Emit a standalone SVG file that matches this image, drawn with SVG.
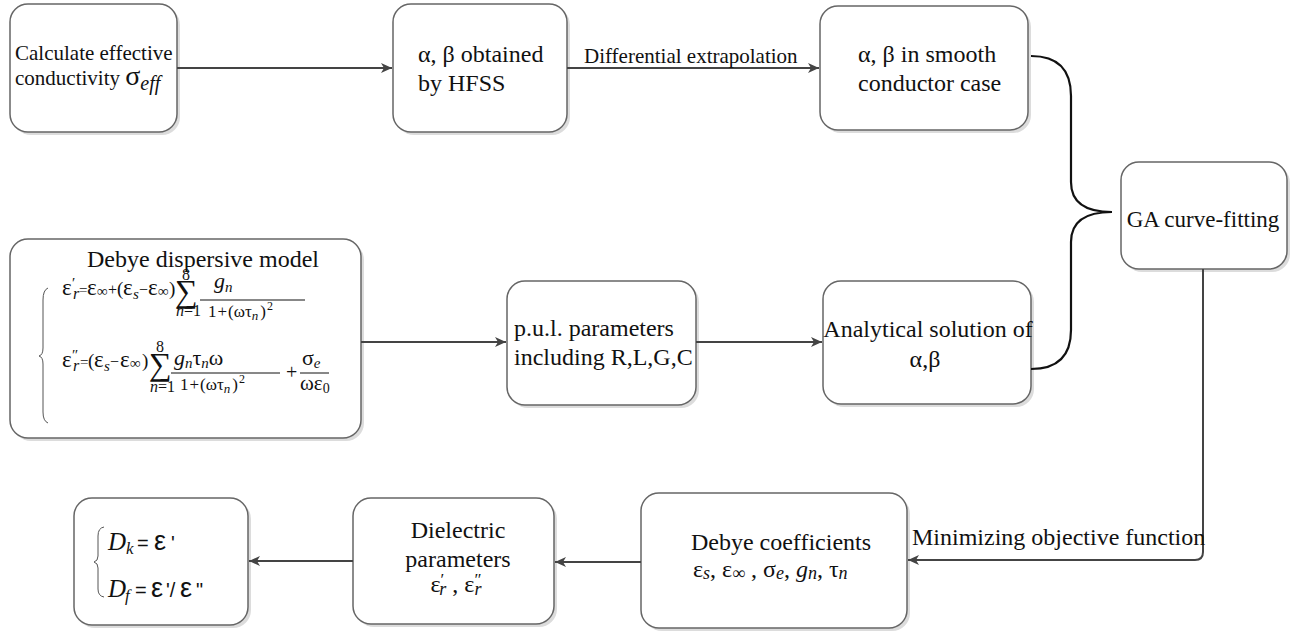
<svg xmlns="http://www.w3.org/2000/svg" width="1299" height="634" viewBox="0 0 1299 634">
<style>
.box{fill:#fff;stroke:#666;stroke-width:1.5}
.sh{fill:#dcdcdc}
.t{font-family:"Liberation Serif","Times New Roman",serif;fill:#111}
.s{font-family:"Liberation Sans",Arial,sans-serif;fill:#111}
.i{font-style:italic}
.conn{stroke:#444;stroke-width:2;fill:none}
.brace{stroke:#111;stroke-width:2.2;fill:none}
.thin{stroke:#555;stroke-width:1;fill:none}
.fr{stroke:#111;stroke-width:1}
</style>
<defs>
<marker id="arr" markerUnits="userSpaceOnUse" markerWidth="12" markerHeight="10" refX="11" refY="5" orient="auto">
<path d="M0,0 L11,5 L0,10 L3,5 Z" fill="#444"/>
</marker>
</defs>

<g id="n1">
<rect class="sh" x="13" y="7" width="167" height="128" rx="18"/>
<rect class="box" x="10" y="4" width="167" height="128" rx="18"/>
<text class="t" x="15" y="60" font-size="21">Calculate effective</text>
<text class="t" x="15" y="85" font-size="21">conductivity <tspan font-size="28">σ</tspan><tspan class="i" font-size="20" dy="5">eff</tspan></text>
</g>

<g id="n2">
<rect class="sh" x="396" y="7" width="174" height="128" rx="18"/>
<rect class="box" x="393" y="4" width="174" height="128" rx="18"/>
<text class="t" x="418" y="62" font-size="24">α, β obtained</text>
<text class="t" x="418" y="91" font-size="24">by HFSS</text>
</g>

<g id="n3">
<rect class="sh" x="823" y="9" width="208" height="124" rx="18"/>
<rect class="box" x="820" y="6" width="208" height="124" rx="18"/>
<text class="t" x="858" y="62" font-size="24">α, β in smooth</text>
<text class="t" x="858" y="91" font-size="24">conductor case</text>
</g>

<g id="n4">
<rect class="sh" x="1124" y="165" width="166" height="107" rx="18"/>
<rect class="box" x="1121" y="162" width="166" height="107" rx="18"/>
<text class="t" x="1203" y="227" font-size="23" text-anchor="middle">GA curve-fitting</text>
</g>

<g id="n5">
<rect class="sh" x="13" y="242" width="351" height="199" rx="18"/>
<rect class="box" x="10" y="239" width="351" height="199" rx="18"/>
<text class="t" x="203" y="267" font-size="24" text-anchor="middle">Debye dispersive model</text>
<path class="thin" d="M48,288 Q43,290 43,300 L43,348 Q43,355 39,356 Q43,357 43,364 L43,412 Q43,421 48,423"/>
<!-- equation 1 -->
<text class="t" y="295" font-size="23"><tspan x="62">ε</tspan><tspan x="72" y="288" font-size="15">′</tspan><tspan class="i" x="73" y="299" font-size="16">r</tspan><tspan x="79" y="295" font-size="15">=</tspan><tspan x="87" y="295">ε</tspan><tspan x="97" y="296" font-size="15">∞</tspan><tspan x="108" y="295" font-size="16">+</tspan><tspan x="117" y="295" font-size="19">(</tspan><tspan x="123" y="295">ε</tspan><tspan class="i" x="133" y="299" font-size="15">s</tspan><tspan x="139" y="295" font-size="16">−</tspan><tspan x="148" y="295">ε</tspan><tspan x="158" y="296" font-size="15">∞</tspan><tspan x="169" y="295" font-size="19">)</tspan></text>
<text class="t" x="175" y="302" font-size="32">∑</text>
<text class="t" x="182" y="280" font-size="16">8</text>
<text class="t" x="176" y="316" font-size="16"><tspan class="i">n</tspan>=1</text>
<text class="t" x="214" y="288" font-size="22"><tspan class="i">g</tspan><tspan class="i" font-size="15" dy="4">n</tspan></text>
<line class="fr" x1="200" y1="300" x2="305" y2="300"/>
<text class="t" x="208" y="317" font-size="17">1<tspan dx="1">+</tspan><tspan dx="1">(ωτ</tspan><tspan class="i" font-size="13" dy="3">n</tspan><tspan dx="2" dy="-3">)</tspan><tspan font-size="12" dx="1" dy="-7">2</tspan></text>
<!-- equation 2 -->
<text class="t" y="367" font-size="23"><tspan x="62">ε</tspan><tspan x="72" y="360" font-size="15">″</tspan><tspan class="i" x="73" y="371" font-size="16">r</tspan><tspan x="80" y="367" font-size="15">=</tspan><tspan x="88" y="367" font-size="19">(</tspan><tspan x="94" y="367">ε</tspan><tspan class="i" x="104" y="371" font-size="15">s</tspan><tspan x="110" y="367" font-size="16">−</tspan><tspan x="120" y="367">ε</tspan><tspan x="130" y="368" font-size="15">∞</tspan><tspan x="142" y="367" font-size="19">)</tspan></text>
<text class="t" x="149" y="375" font-size="32">∑</text>
<text class="t" x="156" y="352" font-size="16">8</text>
<text class="t" x="150" y="392" font-size="16"><tspan class="i">n</tspan>=1</text>
<text class="t" x="174" y="365" font-size="22"><tspan class="i">g</tspan><tspan class="i" font-size="15" dy="3">n</tspan><tspan dy="-3">τ</tspan><tspan class="i" font-size="15" dy="3">n</tspan><tspan dy="-3">ω</tspan></text>
<line class="fr" x1="171" y1="373" x2="280" y2="373"/>
<text class="t" x="180" y="390" font-size="17">1<tspan dx="1">+</tspan><tspan dx="1">(ωτ</tspan><tspan class="i" font-size="13" dy="3">n</tspan><tspan dx="2" dy="-3">)</tspan><tspan font-size="12" dx="1" dy="-7">2</tspan></text>
<text class="t" x="286" y="379" font-size="20">+</text>
<text class="t" x="302" y="365" font-size="22">σ<tspan class="i" font-size="15" dy="3">e</tspan></text>
<line class="fr" x1="300" y1="373" x2="329" y2="373"/>
<text class="t" x="300" y="390" font-size="21">ωε<tspan font-size="14" dy="3">0</tspan></text>
</g>

<g id="n6">
<rect class="sh" x="510" y="284" width="189" height="124" rx="18"/>
<rect class="box" x="507" y="281" width="189" height="124" rx="18"/>
<text class="t" x="514" y="336" font-size="24">p.u.l. parameters</text>
<text class="t" x="514" y="365" font-size="24">including R,L,G,C</text>
</g>

<g id="n7">
<rect class="sh" x="826" y="284" width="208" height="123" rx="18"/>
<rect class="box" x="823" y="281" width="208" height="123" rx="18"/>
<text class="t" x="928" y="337" font-size="24" text-anchor="middle">Analytical solution of</text>
<text class="t" x="925" y="367" font-size="24" text-anchor="middle">α,β</text>
</g>

<g id="n8">
<rect class="sh" x="644" y="496" width="266" height="135" rx="18"/>
<rect class="box" x="641" y="493" width="266" height="135" rx="18"/>
<text class="t" x="781" y="550" font-size="24" text-anchor="middle">Debye coefficients</text>
<text class="t" x="693" y="577" font-size="24">ε<tspan class="i" font-size="18" dy="2">s</tspan><tspan dy="-2">, ε</tspan><tspan font-size="18" dy="2">∞</tspan><tspan dy="-2"> , σ</tspan><tspan class="i" font-size="18" dy="2">e</tspan><tspan dy="-2">, </tspan><tspan class="i">g</tspan><tspan class="i" font-size="18" dy="2">n</tspan><tspan dy="-2">, τ</tspan><tspan class="i" font-size="18" dy="2">n</tspan></text>
</g>

<g id="n9">
<rect class="sh" x="356" y="501" width="201" height="126" rx="18"/>
<rect class="box" x="353" y="498" width="201" height="126" rx="18"/>
<text class="t" x="458" y="538" font-size="24" text-anchor="middle">Dielectric</text>
<text class="t" x="458" y="567" font-size="24" text-anchor="middle">parameters</text>
<text class="t" x="456" y="592" font-size="24" text-anchor="middle">ε<tspan font-size="17" dy="-7">′</tspan><tspan class="i" font-size="18" dx="-5" dy="10">r</tspan><tspan dy="-3"> , ε</tspan><tspan font-size="17" dy="-7">″</tspan><tspan class="i" font-size="18" dx="-7" dy="10">r</tspan></text>
</g>

<g id="n10">
<rect class="sh" x="77" y="501" width="174" height="127" rx="18"/>
<rect class="box" x="74" y="498" width="174" height="127" rx="18"/>
<path class="thin" d="M104,527 Q98,528 98,536 L98,556 Q98,561 94,562 Q98,563 98,568 L98,589 Q98,596 104,597"/>
<text class="t i" x="108" y="550" font-size="25">D</text>
<text class="t i" x="126" y="554" font-size="17">k</text>
<text class="s" x="137" y="550" font-size="20">=</text>
<text class="s" x="154" y="550" font-size="27">ε</text>
<text class="s" x="171" y="550" font-size="20">'</text>
<text class="t i" x="108" y="597" font-size="25">D</text>
<text class="t i" x="125" y="601" font-size="17">f</text>
<text class="s" x="135" y="597" font-size="20">=</text>
<text class="s" x="151" y="597" font-size="27">ε</text>
<text class="s" x="166" y="597" font-size="20">'/</text>
<text class="s" x="180" y="597" font-size="27">ε</text>
<text class="s" x="196" y="597" font-size="20">"</text>
</g>

<g id="connectors">
<path class="conn" d="M177,68 L392,68" marker-end="url(#arr)"/>
<path class="conn" d="M567,68 L819,68" marker-end="url(#arr)"/>
<text class="t" x="584" y="63" font-size="21">Differential extrapolation</text>
<path class="brace" d="M1031,56 Q1071,56 1071,96 L1071,182 Q1071,212 1112,212 Q1071,212 1071,242 L1071,330 Q1071,369 1031,369"/>
<path class="conn" d="M361,342 L506,342" marker-end="url(#arr)"/>
<path class="conn" d="M696,342 L822,342" marker-end="url(#arr)"/>
<path class="conn" d="M1203,269 L1203,552 Q1203,560 1195,560 L908,560" stroke-width="1.5" marker-end="url(#arr)"/>
<text class="t" x="912" y="545" font-size="24">Minimizing objective function</text>
<path class="conn" d="M641,562 L555,562" marker-end="url(#arr)"/>
<path class="conn" d="M353,561 L249,561" marker-end="url(#arr)"/>
</g>
</svg>
